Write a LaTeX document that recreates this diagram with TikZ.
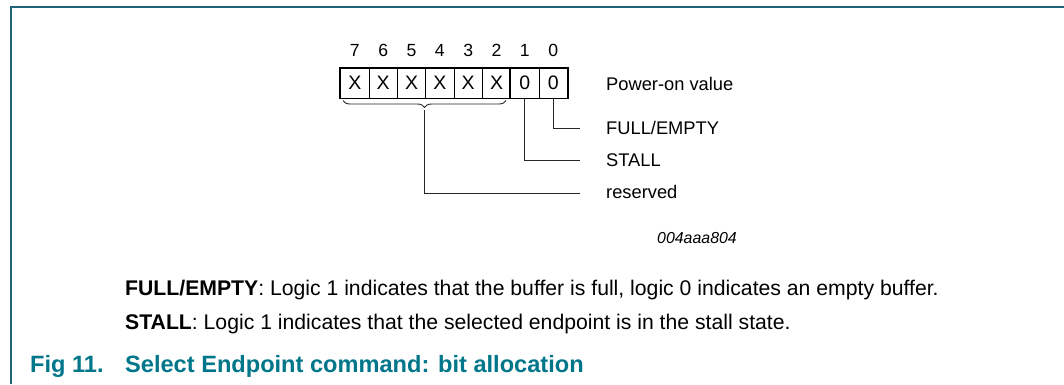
\documentclass[tikz,border=0pt]{standalone}
\usepackage{fontspec}
\setmainfont{Liberation Sans}
\usetikzlibrary{decorations.pathreplacing}
\definecolor{nxpteal}{RGB}{0,118,138}
\definecolor{framec}{RGB}{30,100,120}
\tikzset{
  cellx/.style={draw, line width=0.8pt, minimum width=28.4pt, minimum height=30pt, inner sep=0pt, font=\fontsize{19.5}{22}\selectfont},
  bitnum/.style={anchor=base, inner sep=0pt, font=\fontsize{17.6}{20}\selectfont},
  lbl/.style={anchor=west, inner sep=0pt, font=\fontsize{18.3}{21}\selectfont},
  conn/.style={line width=0.9pt, color=black!85},
  bodytxt/.style={anchor=base west, inner sep=0pt, font=\fontsize{21.2}{24}\selectfont},
  captxt/.style={anchor=base west, inner sep=0pt, text=nxpteal, font=\fontsize{23.6}{27}\selectfont\bfseries},
}
\begin{document}
\begin{tikzpicture}[x=1pt,y=-1pt]
\useasboundingbox (0,0) rectangle (1064,384);
% frame
\draw[framec, line width=1.5pt] (11,384) -- (11,7) -- (1064,7);
% cells
\foreach \i/\b/\v in {0/7/X,1/6/X,2/5/X,3/4/X,4/3/X,5/2/X,6/1/0,7/0/0} {
  \node[cellx] (c\b) at ({340.7+28.33*\i+14.17},83) {\v};
  \node[bitnum] (n\b) at ({340.7+28.33*\i+14.17},56.9) {\b};
}
\draw[line width=1.8pt] (c1.north west) rectangle (c0.south east);
\draw[line width=1.8pt] (c7.north west) rectangle (c0.south east);
% labels
\node[lbl] (pov) at (606,84) {Power-on value};
\node[lbl] (fe) at (606,128.3) {FULL/EMPTY};
\node[lbl] (st) at (606,159.8) {STALL};
\node[lbl, anchor=base west] (rs) at (606,198) {reserved};
\node[anchor=base west, inner sep=0pt, font=\fontsize{15.9}{18}\selectfont\itshape] (id) at (657,243.3) {004aaa804};
% brace
\coordinate (bl) at (343,100.5);
\coordinate (br) at (506,100.5);
\draw[conn, decorate, decoration={brace, mirror, amplitude=7pt}] (bl) -- (br);
\coordinate (bt) at (424.5,110);
\coordinate (e0) at (580,128.3);
\coordinate (e1) at (580,160.7);
\coordinate (e2) at (580,193.3);
\draw[conn] (c0.south) |- (e0);
\draw[conn] (c1.south) |- (e1);
\draw[conn] (bt) |- (e2);
% body text
\node[bodytxt] (t1) at (125,295) {\textbf{FULL/EMPTY}: Logic 1 indicates that the buffer is full, logic 0 indicates an empty buffer.};
\node[bodytxt] (t2) at (125,329) {\textbf{STALL}: Logic 1 indicates that the selected endpoint is in the stall state.};
\node[captxt] (cap1) at (30,372.5) {Fig 11.};
\node[captxt] (cap2) at (125,372.5) {Select Endpoint command: bit allocation};
\end{tikzpicture}
\end{document}
